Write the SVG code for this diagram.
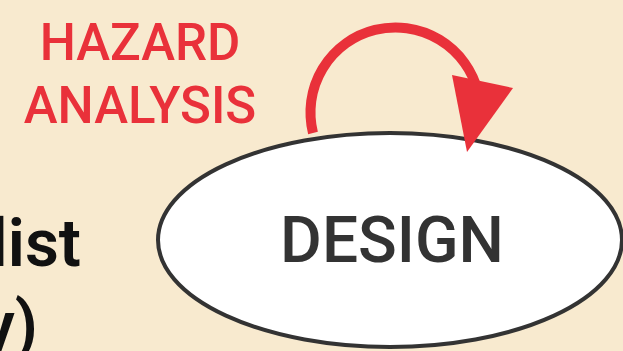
<svg xmlns="http://www.w3.org/2000/svg" width="623" height="351" viewBox="0 0 623 351">
<style>
.red{fill:#e9313a;font-family:Roboto,"Liberation Sans",sans-serif;font-weight:500;font-size:51px;text-anchor:middle}
.blk{fill:#111;font-family:Roboto,"Liberation Sans",sans-serif;font-weight:600;font-size:66px}
.node{fill:#fff;stroke:#333;stroke-width:4}
.lbl{fill:#333;font-family:Roboto,"Liberation Sans",sans-serif;font-weight:500;font-size:64px;text-anchor:middle}
</style>
<rect width="623" height="351" fill="#f8eacf"/>
<g id="label-hazard">
<text class="red" x="140" y="60">HAZARD</text>
<text class="red" x="140" y="123">ANALYSIS</text>
</g>
<g id="side-text">
<text class="blk" x="81" y="266" text-anchor="end">list</text>
<text class="blk" x="38" y="348" text-anchor="end">y)</text>
</g>
<g id="design">
<ellipse class="node" cx="390" cy="240" rx="232" ry="107"/>
<text class="lbl" x="392" y="262">DESIGN</text>
</g>
<g id="connectors">
<path d="M313 133 A85 85 0 1 1 478 92" fill="none" stroke="#e9313a" stroke-width="10"/>
<polygon points="452,75 513,88 467,152" fill="#e9313a"/>
</g>
</svg>
